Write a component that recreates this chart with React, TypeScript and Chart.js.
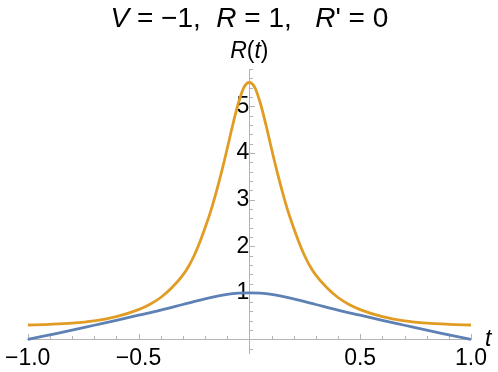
import React, { useEffect, useRef } from 'react';
import { Chart, registerables } from 'chart.js';

Chart.register(...registerables);

// ---- data ----
const blueT = [-1.0, -0.9, -0.8, -0.7, -0.6, -0.5, -0.4, -0.3, -0.2, -0.1, -0.05, 0.0, 0.05, 0.1, 0.2, 0.3, 0.4, 0.5, 0.6, 0.7, 0.8, 0.9, 1.0];
const blueR = [0.0, 0.1, 0.2, 0.305, 0.41, 0.52, 0.63, 0.75, 0.87, 0.965, 0.992, 1.0, 0.992, 0.965, 0.87, 0.75, 0.63, 0.52, 0.41, 0.305, 0.2, 0.1, 0.0];

const orangeT = [-1.0, -0.9, -0.8, -0.7, -0.6, -0.5, -0.45, -0.4, -0.35, -0.3, -0.275, -0.25, -0.225, -0.2, -0.175, -0.15, -0.125, -0.1, -0.075, -0.05, -0.025, 0.0,
  0.025, 0.05, 0.075, 0.1, 0.125, 0.15, 0.175, 0.2, 0.225, 0.25, 0.275, 0.3, 0.35, 0.4, 0.45, 0.5, 0.6, 0.7, 0.8, 0.9, 1.0];
const orangeR = [0.31, 0.325, 0.35, 0.4, 0.49, 0.64, 0.75, 0.9, 1.11, 1.38, 1.56, 1.79, 2.07, 2.39, 2.74, 3.15, 3.6, 4.09, 4.6, 5.06, 5.4, 5.51,
  5.4, 5.06, 4.6, 4.09, 3.6, 3.15, 2.74, 2.39, 2.07, 1.79, 1.56, 1.38, 1.11, 0.9, 0.75, 0.64, 0.49, 0.4, 0.35, 0.325, 0.31];

const xMajorTicks = [-1.0, -0.5, 0.5, 1.0];
const xMinorTicks = [-0.9, -0.8, -0.7, -0.6, -0.4, -0.3, -0.2, -0.1, 0.1, 0.2, 0.3, 0.4, 0.6, 0.7, 0.8, 0.9];
const yMajorTicks = [1, 2, 3, 4, 5];
const yMinorTicks = [-0.2, 0.2, 0.4, 0.6, 0.8, 1.2, 1.4, 1.6, 1.8, 2.2, 2.4, 2.6, 2.8, 3.2, 3.4, 3.6, 3.8, 4.2, 4.4, 4.6, 4.8, 5.2, 5.4, 5.6, 5.8];
const xTickLabels = ['−1.0', '−0.5', '0.5', '1.0'];
const yTickLabels = ['1', '2', '3', '4', '5'];

const titleParts = [
  { text: 'V', italic: true },
  { text: ' = −1,  ', italic: false },
  { text: 'R', italic: true },
  { text: ' = 1,   ', italic: false },
  { text: 'R', italic: true },
  { text: "' = 0", italic: false },
];
const yLabelParts = [
  { text: 'R', italic: true },
  { text: '(', italic: false },
  { text: 't', italic: true },
  { text: ')', italic: false },
];
const xLabelText = 't';

const FONT = '"Liberation Sans", Arial, Helvetica, sans-serif';
const AXIS_COLOR = '#b3b3b3';
const BLUE = '#5e81b5';
const ORANGE = '#e19c24';

function drawParts(ctx: CanvasRenderingContext2D, parts: { text: string; italic: boolean }[], size: number, cx: number, baseline: number) {
  const fontFor = (it: boolean) => `${it ? 'italic ' : ''}${size}px ${FONT}`;
  let total = 0;
  const widths = parts.map((p) => {
    ctx.font = fontFor(p.italic);
    const w = ctx.measureText(p.text).width;
    total += w;
    return w;
  });
  let x = cx - total / 2;
  ctx.textAlign = 'left';
  ctx.textBaseline = 'alphabetic';
  parts.forEach((p, i) => {
    ctx.font = fontFor(p.italic);
    ctx.fillText(p.text, x, baseline);
    x += widths[i];
  });
}

const mmaPlugin = {
  id: 'mmaDecor',
  beforeDatasetsDraw(chart: any) {
    const { ctx, scales } = chart;
    const xs = scales.x;
    const ys = scales.y;
    const x0 = xs.getPixelForValue(0);
    const y0 = ys.getPixelForValue(0);
    ctx.save();
    ctx.strokeStyle = AXIS_COLOR;
    ctx.lineWidth = 1;
    ctx.beginPath();
    const ax = Math.round(x0) + 0.5;
    const ay = Math.round(y0) + 0.5;
    xMinorTicks.forEach((v) => {
      const px = Math.round(xs.getPixelForValue(v)) + 0.5;
      ctx.moveTo(px, ay);
      ctx.lineTo(px, ay - 3.5);
    });
    xMajorTicks.forEach((v) => {
      const px = Math.round(xs.getPixelForValue(v)) + 0.5;
      ctx.moveTo(px, ay);
      ctx.lineTo(px, ay - 5.5);
    });
    yMinorTicks.forEach((v) => {
      const py = Math.round(ys.getPixelForValue(v)) + 0.5;
      ctx.moveTo(ax, py);
      ctx.lineTo(ax + 3.5, py);
    });
    yMajorTicks.forEach((v) => {
      const py = Math.round(ys.getPixelForValue(v)) + 0.5;
      ctx.moveTo(ax, py);
      ctx.lineTo(ax + 5.5, py);
    });
    ctx.stroke();
    ctx.restore();
  },
  afterDraw(chart: any) {
    const { ctx, scales } = chart;
    const xs = scales.x;
    const ys = scales.y;
    ctx.save();
    ctx.fillStyle = '#000';
    drawParts(ctx, titleParts, 28, xs.getPixelForValue(0), 27);
    drawParts(ctx, yLabelParts, 23, xs.getPixelForValue(0), 57.5);
    ctx.font = `italic 23px ${FONT}`;
    ctx.textAlign = 'left';
    ctx.textBaseline = 'alphabetic';
    ctx.fillText(xLabelText, xs.getPixelForValue(1) + 14, ys.getPixelForValue(0) + 7);
    ctx.restore();
  },
};

export default function App() {
  const ref = useRef<HTMLCanvasElement | null>(null);

  useEffect(() => {
    if (!ref.current) return;
    const chart = new Chart(ref.current, {
      type: 'line',
      data: {
        datasets: [
          {
            label: 'orange',
            data: orangeT.map((t, i) => ({ x: t, y: orangeR[i] })),
            borderColor: ORANGE,
            backgroundColor: ORANGE,
            borderWidth: 2.8,
            pointRadius: 0,
            fill: false,
            cubicInterpolationMode: 'monotone',
            order: 0,
          },
          {
            label: 'blue',
            data: blueT.map((t, i) => ({ x: t, y: blueR[i] })),
            borderColor: BLUE,
            backgroundColor: BLUE,
            borderWidth: 2.8,
            pointRadius: 0,
            fill: false,
            cubicInterpolationMode: 'monotone',
            order: 1,
          },
        ],
      },
      options: {
        animation: false,
        responsive: false,
        devicePixelRatio: 1,
        layout: { padding: { left: 25.7, right: 27, top: 69, bottom: 19 } },
        plugins: {
          legend: { display: false },
          title: { display: false },
          tooltip: { enabled: false },
        },
        scales: {
          x: {
            type: 'linear',
            min: -1,
            max: 1,
            position: { y: 0 } as any,
            grid: { display: false, drawTicks: false },
            border: { display: true, color: AXIS_COLOR, width: 1 },
            ticks: {
              stepSize: 0.5,
              autoSkip: false,
              maxRotation: 0,
              padding: 5,
              color: '#000',
              font: { family: FONT, size: 23 },
              callback: (v: any) => {
                const idx = xMajorTicks.findIndex((m) => Math.abs(m - Number(v)) < 1e-6);
                return idx >= 0 ? xTickLabels[idx] : '';
              },
            },
          },
          y: {
            type: 'linear',
            min: -0.29,
            max: 5.8,
            position: { x: 0 } as any,
            grid: { display: false, drawTicks: false },
            border: { display: true, color: AXIS_COLOR, width: 1 },
            ticks: {
              stepSize: 1,
              autoSkip: false,
              padding: 5,
              color: '#000',
              font: { family: FONT, size: 23 },
              callback: (v: any) => {
                const idx = yMajorTicks.findIndex((m) => Math.abs(m - Number(v)) < 1e-6);
                return idx >= 0 ? yTickLabels[idx] : '';
              },
            },
          },
        },
      } as any,
      plugins: [mmaPlugin],
    });
    return () => chart.destroy();
  }, []);

  return (
    <div style={{ position: 'absolute', left: 0, top: 0, width: 498, height: 372, background: '#fff' }}>
      <canvas ref={ref} width={498} height={372} style={{ width: 498, height: 372, display: 'block' }} />
    </div>
  );
}
